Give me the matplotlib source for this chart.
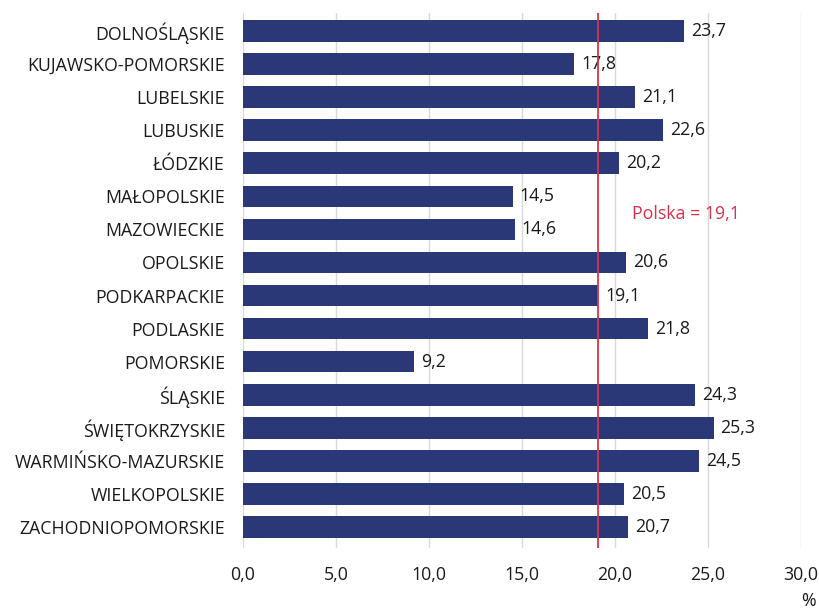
import matplotlib
matplotlib.use("Agg")
import matplotlib.pyplot as plt
from matplotlib.ticker import FuncFormatter

plt.rcParams['font.family'] = ['Open Sans', 'DejaVu Sans']

regions = ["DOLNOŚLĄSKIE", "KUJAWSKO-POMORSKIE", "LUBELSKIE", "LUBUSKIE", "ŁÓDZKIE",
           "MAŁOPOLSKIE", "MAZOWIECKIE", "OPOLSKIE", "PODKARPACKIE", "PODLASKIE",
           "POMORSKIE", "ŚLĄSKIE", "ŚWIĘTOKRZYSKIE", "WARMIŃSKO-MAZURSKIE",
           "WIELKOPOLSKIE", "ZACHODNIOPOMORSKIE"]
values = [23.7, 17.8, 21.1, 22.6, 20.2, 14.5, 14.6, 20.6, 19.1, 21.8,
          9.2, 24.3, 25.3, 24.5, 20.5, 20.7]
polska = 19.1

navy = "#2b3877"
red = "#d8324a"
txt = "#1a1a1a"
fs = 12.8

fig = plt.figure(figsize=(8.19, 6.10), dpi=100)
ax = fig.add_axes([0.2967, 0.1016, 0.6813, 0.8771])

y = list(range(len(regions)))
ax.bar_label(ax.barh(y, values, height=0.65, color=navy, zorder=3),
             labels=[f"{v:.1f}".replace(".", ",") for v in values],
             padding=5, fontsize=fs, color=txt)

ax.axvline(polska, color=red, lw=1.3, zorder=4)
ax.text(20.9, 5.55, "Polska = " + f"{polska:.1f}".replace(".", ","),
        color=red, fontsize=fs, va="center", ha="left")

ax.set_xlim(0, 30)
ax.set_ylim(15.63, -0.54)
ax.set_xticks(range(0, 31, 5))
ax.xaxis.set_major_formatter(FuncFormatter(lambda v, p: f"{v:.1f}".replace(".", ",")))
ax.set_yticks(y)
ax.set_yticklabels(regions)
ax.grid(axis="x", color="#d9d9d9", lw=1, zorder=0)
for s in ax.spines.values():
    s.set_visible(False)
ax.tick_params(axis="both", length=0, labelsize=fs, colors=txt)
ax.tick_params(axis="y", pad=13)
ax.tick_params(axis="x", pad=13)

fig.text(808 / 819, 1 - 601 / 610, "%", ha="center", va="center", fontsize=fs, color=txt)

fig.savefig("out.png", dpi=100)
